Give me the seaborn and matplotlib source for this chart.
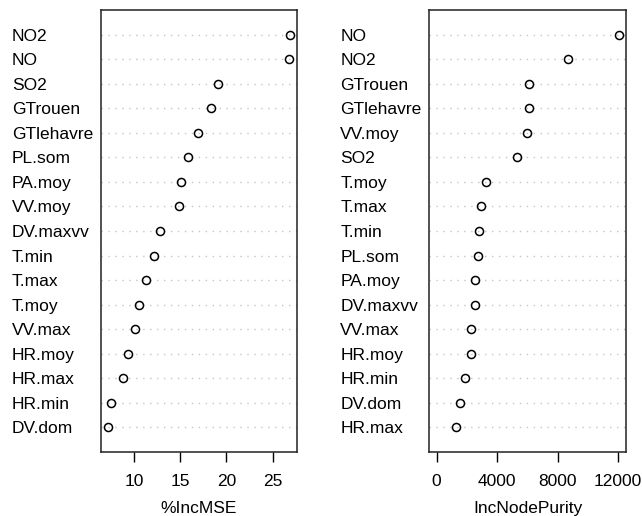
import matplotlib
matplotlib.use('Agg')
import matplotlib.pyplot as plt
import seaborn as sns
import pandas as pd

# %IncMSE panel (sorted, top to bottom)
mse_labels = ['NO2', 'NO', 'SO2', 'GTrouen', 'GTlehavre', 'PL.som', 'PA.moy', 'VV.moy',
              'DV.maxvv', 'T.min', 'T.max', 'T.moy', 'VV.max', 'HR.moy', 'HR.max',
              'HR.min', 'DV.dom']
mse_values = [26.85, 26.74, 19.07, 18.31, 16.94, 15.83, 15.03, 14.89,
              12.84, 12.16, 11.33, 10.50, 10.11, 9.38, 8.84, 7.55, 7.19]

# IncNodePurity panel (sorted, top to bottom)
pur_labels = ['NO', 'NO2', 'GTrouen', 'GTlehavre', 'VV.moy', 'SO2', 'T.moy', 'T.max',
              'T.min', 'PL.som', 'PA.moy', 'DV.maxvv', 'VV.max', 'HR.moy', 'HR.min',
              'DV.dom', 'HR.max']
pur_values = [12040, 8685, 6100, 6080, 5990, 5345, 3250, 2917,
              2806, 2718, 2541, 2519, 2276, 2250, 1878, 1566, 1282]

sns.set_theme(style="white")
plt.rcParams['font.family'] = ['Liberation Sans', 'DejaVu Sans']
plt.rcParams['text.color'] = 'black'
plt.rcParams['axes.labelcolor'] = 'black'
plt.rcParams['xtick.color'] = 'black'
plt.rcParams['ytick.color'] = 'black'

fig = plt.figure(figsize=(6.42, 5.16), dpi=100)
ax1 = fig.add_axes([0.157, 0.124, 0.3056, 0.8566])
ax2 = fig.add_axes([0.6687, 0.124, 0.3063, 0.8566])


def dotchart(ax, labels, values, xname, xmin, xticks):
    df = pd.DataFrame({'var': labels, xname: values})
    sns.pointplot(data=df, x=xname, y='var', order=labels, orient='h', ax=ax,
                  linestyle='none', marker='o', color='black', errorbar=None,
                  markerfacecolor='none', markeredgecolor='black',
                  markersize=5.8, markeredgewidth=1.1)
    n = len(labels)
    ax.set_ylim(n, -1)
    lo, hi = xmin, max(values)
    pad = (hi - lo) * 0.04
    ax.set_xlim(lo - pad, hi + pad)
    ax.grid(axis='y', color='#c4c4c4', linestyle=(0, (1, 4)), linewidth=1.0)
    ax.grid(axis='x', visible=False)
    ax.set_axisbelow(True)
    ax.set_xticks(xticks)
    ax.set_xticklabels([str(t) for t in xticks], fontsize=12.5)
    ax.tick_params(axis='x', direction='out', length=7.5, width=1, color='black',
                   labelcolor='black', bottom=True, pad=8)
    ax.tick_params(axis='y', length=0, pad=64, labelcolor='black')
    ax.set_yticks(range(n))
    ax.set_yticklabels(labels, fontsize=12.5)
    for t in ax.get_yticklabels():
        t.set_horizontalalignment('left')
    ax.set_xlabel(xname, fontsize=12.5, labelpad=9, color='black')
    ax.set_ylabel('')
    for s in ax.spines.values():
        s.set_visible(True)
        s.set_color('#222222')
        s.set_linewidth(1.1)


dotchart(ax1, mse_labels, mse_values, '%IncMSE', min(mse_values), [10, 15, 20, 25])
dotchart(ax2, pur_labels, pur_values, 'IncNodePurity', 0, [0, 4000, 8000, 12000])

fig.savefig('out.png', dpi=100, facecolor='white')
